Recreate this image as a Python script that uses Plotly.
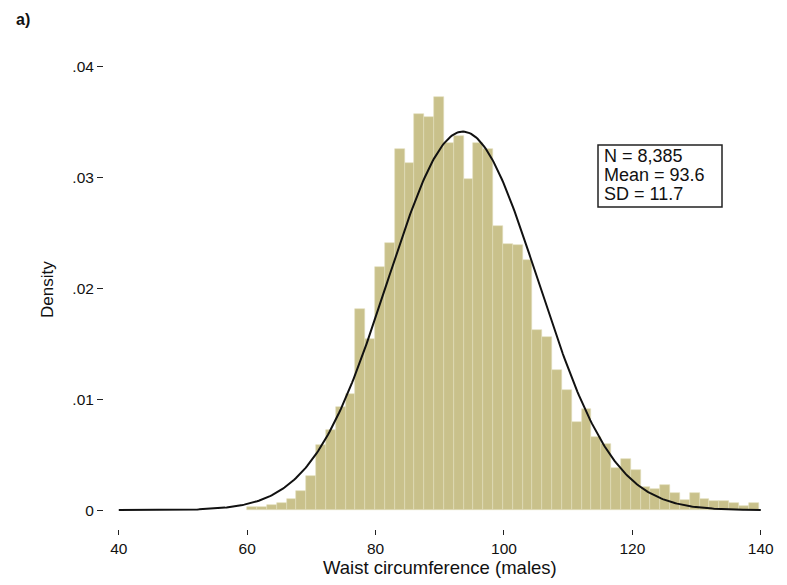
import numpy as np
import plotly.graph_objects as go

# ---- data ----
BIN_START = 60.0
BIN_WIDTH = 1.532
DENSITY = [0.00027, 0.00032, 0.0005, 0.0006, 0.0010, 0.00176, 0.0031, 0.0059, 0.00725, 0.00926,
           0.0105, 0.0181, 0.0154, 0.0219, 0.0241, 0.0325, 0.0313, 0.0357, 0.0354, 0.0372,
           0.0331, 0.0337, 0.0298, 0.0331, 0.0325, 0.0256, 0.0240, 0.0239, 0.0225, 0.0162,
           0.0156, 0.0126, 0.0108, 0.0079, 0.0091, 0.0066, 0.0060, 0.0038, 0.0046, 0.0036,
           0.0021, 0.0019, 0.0023, 0.0015, 0.00095, 0.0015, 0.0010, 0.00086, 0.0008, 0.00068,
           0.0004, 0.00063]
N_OBS = "8,385"
MEAN = 93.6
SD = 11.7
X_TICKS = [40, 60, 80, 100, 120, 140]
Y_TICKS = [0, 0.01, 0.02, 0.03, 0.04]
Y_TICKTEXT = ["0", ".01", ".02", ".03", ".04"]
BOX_LINES = [f"N = {N_OBS}", f"Mean = {MEAN}", f"SD = {SD}"]

centers = BIN_START + (np.arange(len(DENSITY)) + 0.5) * BIN_WIDTH
xc = np.linspace(40, 140, 400)
yc = np.exp(-0.5 * ((xc - MEAN) / SD) ** 2) / (SD * np.sqrt(2 * np.pi))

FONT = "Liberation Sans"

fig = go.Figure()
fig.add_trace(go.Bar(
    x=centers, y=DENSITY, width=BIN_WIDTH,
    marker=dict(color="#c9c18b", line=dict(color="#e2ddba", width=0.6)),
    showlegend=False, hoverinfo="skip"))
fig.add_trace(go.Scatter(
    x=xc, y=yc, mode="lines", line=dict(color="#111111", width=2),
    showlegend=False, hoverinfo="skip"))

L, R, T, B = 104, 23, 55, 56
fig.update_layout(
    width=787, height=585,
    margin=dict(l=L, r=R, t=T, b=B),
    paper_bgcolor="white", plot_bgcolor="white",
    bargap=0,
    font=dict(family=FONT, size=15, color="#111111"),
    xaxis=dict(range=[37.7, 140.5], tickvals=X_TICKS, ticks="outside", ticklen=5,
               tickcolor="#222222", showline=False, showgrid=False, zeroline=False,
               tickfont=dict(size=15.5)),
    yaxis=dict(range=[-0.0017, 0.041], tickvals=Y_TICKS, ticktext=Y_TICKTEXT,
               ticks="outside", ticklen=6, tickcolor="#222222", showline=False,
               showgrid=False, zeroline=False, tickfont=dict(size=15.5)),
)

pw = 787 - L - R
ph = 585 - T - B
def px2paper(px, py):
    return (px - L) / pw, (585 - B - py) / ph

x0, y0 = px2paper(440, 567)
fig.add_annotation(x=x0, y=y0, xref="paper", yref="paper", text="Waist circumference (males)",
                   showarrow=False, font=dict(size=18.5), xanchor="center", yanchor="middle")
x0, y0 = px2paper(47, 290)
fig.add_annotation(x=x0, y=y0, xref="paper", yref="paper", text="Density", textangle=-90,
                   showarrow=False, font=dict(size=17), xanchor="center", yanchor="middle")
x0, y0 = px2paper(14, 20)
fig.add_annotation(x=x0, y=y0, xref="paper", yref="paper", text="<b>a)</b>",
                   showarrow=False, font=dict(size=16), xanchor="left", yanchor="middle")

# stats box
bx0, by0 = px2paper(598, 207)
bx1, by1 = px2paper(722, 145)
fig.add_shape(type="rect", xref="paper", yref="paper", x0=bx0, y0=by0, x1=bx1, y1=by1,
              line=dict(color="#222222", width=1.5), fillcolor="white", layer="above")
for i, txt in enumerate(BOX_LINES):
    x0, y0 = px2paper(602, 156 + i * 19)
    fig.add_annotation(x=x0, y=y0, xref="paper", yref="paper", text=txt,
                       showarrow=False, xanchor="left", yanchor="middle",
                       font=dict(size=18))

fig.write_html("out.html")
